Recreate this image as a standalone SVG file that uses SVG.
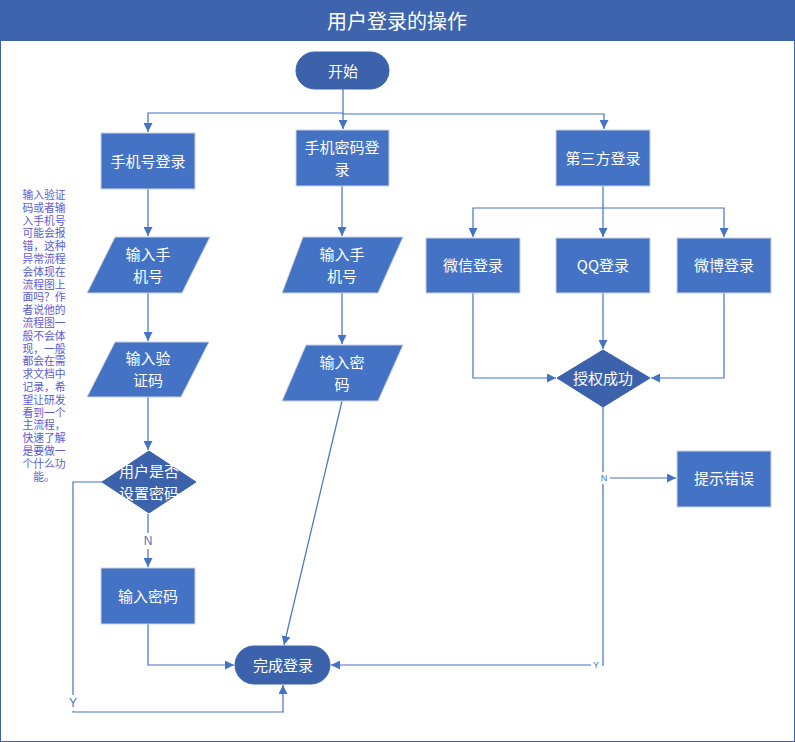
<svg xmlns="http://www.w3.org/2000/svg" width="795" height="742" viewBox="0 0 795 742">
<defs>
<style>
.t{font-family:"Noto Sans CJK SC","Liberation Sans",sans-serif;fill:#fff;font-size:15px;text-anchor:middle;dominant-baseline:central}
.box{fill:#4472C4;stroke:#C9D1E0;stroke-width:1}
.dark{fill:#3C62AC;stroke:#3C62AC;stroke-width:1}
.ln{fill:none;stroke:#4472C4;stroke-width:1.2}
.lbl{font-family:"Liberation Sans",sans-serif;fill:#4472C4;text-anchor:middle;dominant-baseline:central}
.note{font-family:"Liberation Sans","Noto Sans CJK SC",sans-serif;fill:#5B5BD6;font-size:10.8px;text-anchor:middle}
</style>
<marker id="ah" viewBox="0 0 10 10" refX="10" refY="5" markerWidth="9" markerHeight="9" markerUnits="userSpaceOnUse" orient="auto"><path d="M0,0L10,5L0,10z" fill="#4472C4"/></marker>
</defs>
<rect x="0.5" y="0.5" width="794" height="741" fill="#fff" stroke="#3C62AC"/>
<g id="title"><rect x="0" y="0" width="795" height="41" fill="#3E64AD"/><text class="t" x="397" y="20" style="font-size:20px">用户登录的操作</text></g>

<g id="connectors">
<path class="ln" d="M343,89V113H148V132" marker-end="url(#ah)"/>
<path class="ln" d="M343,113V129" marker-end="url(#ah)"/>
<path class="ln" d="M343,114H604V129" marker-end="url(#ah)"/>
<path class="ln" d="M148,189V236" marker-end="url(#ah)"/>
<path class="ln" d="M148,293V341" marker-end="url(#ah)"/>
<path class="ln" d="M148,397V450" marker-end="url(#ah)"/>
<path class="ln" d="M148,514V567" marker-end="url(#ah)"/>
<path class="ln" d="M148,624V665H234" marker-end="url(#ah)"/>
<path class="ln" d="M102,482H73V712H283V685" marker-end="url(#ah)"/>
<path class="ln" d="M342,186V236" marker-end="url(#ah)"/>
<path class="ln" d="M342,293V344" marker-end="url(#ah)"/>
<path class="ln" d="M342,401L284,645" marker-end="url(#ah)"/>
<path class="ln" d="M603,186V208H473V237" marker-end="url(#ah)"/>
<path class="ln" d="M603,208V237" marker-end="url(#ah)"/>
<path class="ln" d="M603,208H724V237" marker-end="url(#ah)"/>
<path class="ln" d="M603,293V349" marker-end="url(#ah)"/>
<path class="ln" d="M473,293V378H556" marker-end="url(#ah)"/>
<path class="ln" d="M724,293V378H651" marker-end="url(#ah)"/>
<path class="ln" d="M603,407V665H331" marker-end="url(#ah)"/>
<path class="ln" d="M603,478H676" marker-end="url(#ah)"/>
<rect x="140" y="533" width="16" height="16" fill="#fff"/>
<text class="lbl" x="148" y="541" style="font-size:12px">N</text>
<rect x="66" y="695" width="14" height="16" fill="#fff"/>
<text class="lbl" x="73" y="703" style="font-size:12px">Y</text>
<rect x="598" y="472" width="12" height="12" fill="#fff"/>
<text class="lbl" x="604" y="478" style="font-size:9px">N</text>
<rect x="591" y="659" width="11" height="12" fill="#fff"/>
<text class="lbl" x="596" y="665" style="font-size:9px">Y</text>
</g>

<g id="start"><rect class="dark" x="296" y="52" width="93" height="37" rx="18.5"/><text class="t" x="343" y="70">开始</text></g>
<g id="phone-login"><rect class="box" x="101" y="133" width="94" height="56"/><text class="t" x="148" y="160">手机号登录</text></g>
<g id="phone-pwd-login"><rect class="box" x="296" y="130" width="93" height="56"/><text class="t" x="342" y="146">手机密码登</text><text class="t" x="342" y="168">录</text></g>
<g id="third-login"><rect class="box" x="556" y="130" width="94" height="56"/><text class="t" x="603" y="157">第三方登录</text></g>

<g id="input-phone-1"><polygon class="box" points="115,237 210,237 182,293 87,293"/><text class="t" x="148" y="253">输入手</text><text class="t" x="148" y="275">机号</text></g>
<g id="input-code"><polygon class="box" points="115,342 209,342 181,397 87,397"/><text class="t" x="148" y="357">输入验</text><text class="t" x="148" y="379">证码</text></g>
<g id="has-pwd"><polygon class="dark" points="149,451 196,482 149,513 102,482"/><text class="t" x="149" y="470">用户是否</text><text class="t" x="149" y="492">设置密码</text></g>
<g id="input-pwd-1"><rect class="box" x="101" y="568" width="94" height="56"/><text class="t" x="148" y="595">输入密码</text></g>

<g id="input-phone-2"><polygon class="box" points="303,237 403,237 378,293 282,293"/><text class="t" x="342" y="253">输入手</text><text class="t" x="342" y="275">机号</text></g>
<g id="input-pwd-2"><polygon class="box" points="306,345 403,345 378,401 282,401"/><text class="t" x="342" y="361">输入密</text><text class="t" x="342" y="383">码</text></g>

<g id="wechat"><rect class="box" x="426" y="238" width="94" height="55"/><text class="t" x="473" y="264">微信登录</text></g>
<g id="qq"><rect class="box" x="556" y="238" width="94" height="55"/><text class="t" x="603" y="264">QQ登录</text></g>
<g id="weibo"><rect class="box" x="677" y="238" width="94" height="55"/><text class="t" x="724" y="264">微博登录</text></g>
<g id="auth-ok"><polygon class="dark" points="603,350 650,378 603,407 557,378"/><text class="t" x="603" y="377">授权成功</text></g>
<g id="show-error"><rect class="box" x="677" y="451" width="94" height="56"/><text class="t" x="724" y="477">提示错误</text></g>

<g id="finish"><rect class="dark" x="235" y="646" width="95" height="38" rx="19"/><text class="t" x="283" y="664">完成登录</text></g>

<g id="note">
<text class="note" x="44" y="199"><tspan x="44">输入验证</tspan><tspan x="44" dy="12.8">码或者输</tspan><tspan x="44" dy="12.8">入手机号</tspan><tspan x="44" dy="12.8">可能会报</tspan><tspan x="44" dy="12.8">错，这种</tspan><tspan x="44" dy="12.8">异常流程</tspan><tspan x="44" dy="12.8">会体现在</tspan><tspan x="44" dy="12.8">流程图上</tspan><tspan x="44" dy="12.8">面吗？作</tspan><tspan x="44" dy="12.8">者说他的</tspan><tspan x="44" dy="12.8">流程图一</tspan><tspan x="44" dy="12.8">般不会体</tspan><tspan x="44" dy="12.8">现，一般</tspan><tspan x="44" dy="12.8">都会在需</tspan><tspan x="44" dy="12.8">求文档中</tspan><tspan x="44" dy="12.8">记录，希</tspan><tspan x="44" dy="12.8">望让研发</tspan><tspan x="44" dy="12.8">看到一个</tspan><tspan x="44" dy="12.8">主流程，</tspan><tspan x="44" dy="12.8">快速了解</tspan><tspan x="44" dy="12.8">是要做一</tspan><tspan x="44" dy="12.8">个什么功</tspan><tspan x="44" dy="12.8">能。</tspan></text>
</g>
</svg>
